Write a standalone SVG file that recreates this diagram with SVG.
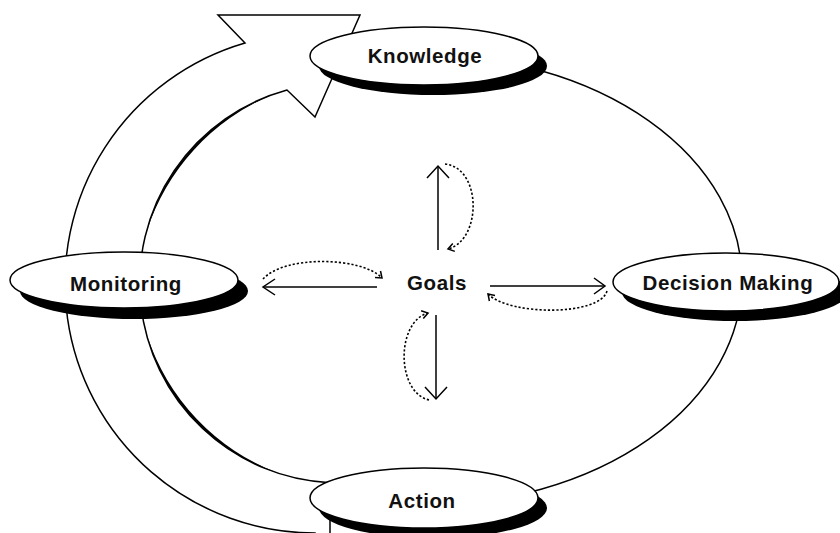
<svg xmlns="http://www.w3.org/2000/svg" width="840" height="533" viewBox="0 0 840 533">
<style>
.line{fill:none;stroke:#000;stroke-width:1.5}
.dot{fill:none;stroke:#000;stroke-width:1.6;stroke-dasharray:2.2 2}
.head{fill:none;stroke:#000;stroke-width:1.5;stroke-linejoin:miter}
.node{fill:#fff;stroke:#000;stroke-width:1.5}
.shadow{fill:#000}
.lbl{font-family:"Liberation Sans",Arial,sans-serif;font-weight:bold;font-size:20.5px;letter-spacing:0.6px;text-anchor:middle;fill:#111}
</style>
<rect width="840" height="533" fill="#fff"/>
<g id="cycle-arrow">
<path class="node" d="M245,43 L218,15 L360,15 L315,117 L287,90 A200,200 0 0 0 330,482.7 L330,545 L315,545 L315,533 A250,250 0 0 1 245,43 Z"/>
<path class="shadow" d="M271.6,95.1 A200,200 0 0 0 146.8,231.2 A220.6,220.6 0 0 1 271.6,95.1 Z"/>
<path class="shadow" d="M146.8,334.8 A200,200 0 0 0 278.2,473.2 A220.6,220.6 0 0 1 146.8,334.8 Z"/>
</g>
<g id="connectors">
<path class="line" d="M424,55 A318,225 0 0 1 424,505"/>
<g id="goals-up">
<line class="line" x1="438" y1="250" x2="438" y2="167"/>
<polyline class="head" points="427,178 438,166 449,178"/>
<path class="dot" d="M445,164 C482,168 482,240 448,249"/>
<polyline class="head" points="452.8,243.6 448,249 454.8,251.4"/>
</g>
<g id="goals-left">
<line class="line" x1="377" y1="287" x2="263" y2="287"/>
<polyline class="head" points="275,279 263,287 275,295"/>
<path class="dot" d="M263,279 C285,255 360,257 381,277"/>
<polyline class="head" points="375,277.5 382,278 380.5,271"/>
</g>
<g id="goals-right">
<line class="line" x1="490" y1="286" x2="605" y2="286"/>
<polyline class="head" points="594,278 605,286 594,294"/>
<path class="dot" d="M607,291 C600,316 510,316 488,294"/>
<polyline class="head" points="495,295.4 488,294 489.4,301"/>
</g>
<g id="goals-down">
<line class="line" x1="436" y1="315" x2="436" y2="398"/>
<polyline class="head" points="425,387 436,399 447,387"/>
<path class="dot" d="M429,400 C396,392 396,322 428,313"/>
<polyline class="head" points="423.3,318.4 428,313 421.1,310.8"/>
</g>
</g>
<g id="knowledge">
<ellipse class="shadow" cx="433" cy="66" rx="114" ry="29"/>
<ellipse class="node" cx="424" cy="56" rx="114" ry="29"/>
<text class="lbl" x="425" y="63">Knowledge</text>
</g>
<g id="monitoring">
<ellipse class="shadow" cx="134" cy="291" rx="114" ry="28"/>
<ellipse class="node" cx="124" cy="280" rx="114" ry="28"/>
<text class="lbl" x="126" y="291">Monitoring</text>
</g>
<g id="decision-making">
<ellipse class="shadow" cx="735" cy="292" rx="113" ry="29"/>
<ellipse class="node" cx="726" cy="282" rx="113" ry="29"/>
<text class="lbl" x="728" y="290">Decision Making</text>
</g>
<g id="action">
<ellipse class="shadow" cx="433" cy="508" rx="114" ry="30"/>
<ellipse class="node" cx="424" cy="498" rx="114" ry="30"/>
<text class="lbl" x="422" y="508">Action</text>
</g>
<g id="goals">
<text class="lbl" x="437" y="290">Goals</text>
</g>
</svg>
